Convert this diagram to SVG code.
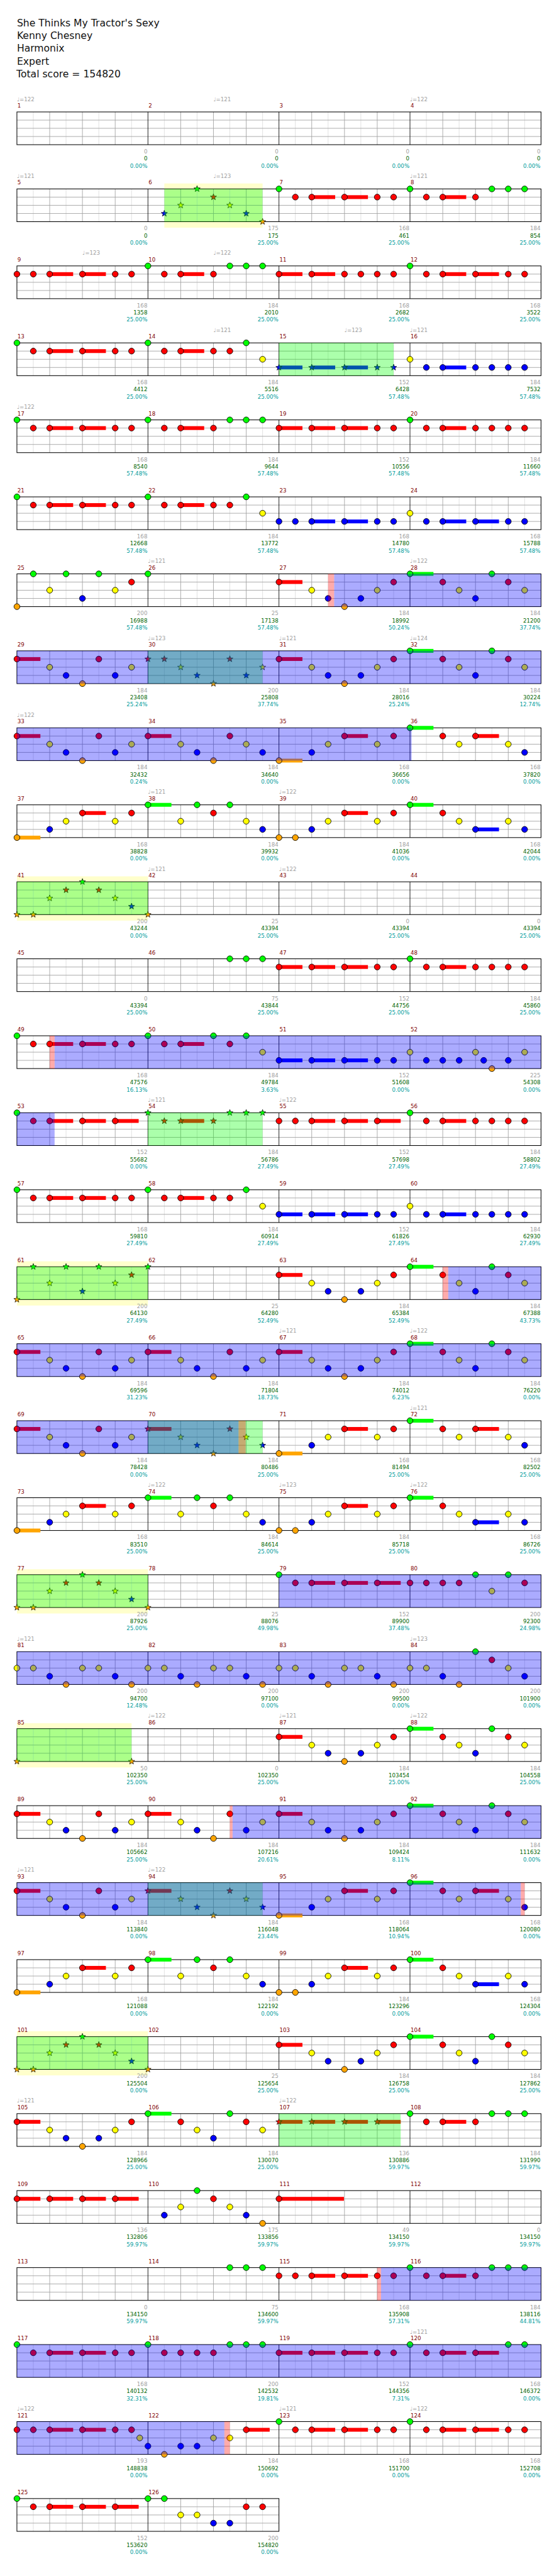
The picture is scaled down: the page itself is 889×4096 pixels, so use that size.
<svg xmlns="http://www.w3.org/2000/svg" width="889" height="4096" viewBox="0 0 889 4096">
<style>
text{font-family:"DejaVu Sans",Verdana,sans-serif;font-size:10px}
.ti{font-size:18px;fill:#111}
.mn{fill:#800000}
.tp{fill:#a0a0a0}
.a{fill:#a0a0a0;text-anchor:end}
.b{fill:#006400;text-anchor:end}
.c{fill:#009c9c;text-anchor:end}
.gr{fill:#0f0;fill-opacity:.33}
.bl{fill:#00f;fill-opacity:.33}
.pk{fill:#f00;fill-opacity:.33}
.ye{fill:#ffffcc}
</style>
<defs>
<circle id="c" r="5.4" stroke="#000"/>
<path id="st" d="M0-6L1.47-2.02 5.71-1.85 2.38.77 3.53 4.85 0 2.5-3.53 4.85-2.38.77-5.71-1.85-1.47-2.02Z" stroke="#000" stroke-width=".8"/>
<use id="G" href="#c" fill="#0f0"/>
<use id="R" href="#c" y="15" fill="#f00"/>
<use id="Y" href="#c" y="30" fill="#ff0"/>
<use id="B" href="#c" y="45" fill="#00f"/>
<use id="O" href="#c" y="60" fill="#ffa500"/>
<use id="xG" href="#st" fill="#0f0"/>
<use id="xR" href="#st" y="15" fill="#f00"/>
<use id="xY" href="#st" y="30" fill="#ff0"/>
<use id="xB" href="#st" y="45" fill="#00f"/>
<use id="xO" href="#st" y="60" fill="#ffa500"/>
<rect id="sG" y="-3.5" width="43" height="7" fill="#0f0"/>
<rect id="sR" y="11.5" width="43" height="7" fill="#f00"/>
<rect id="sB" y="41.5" width="43" height="7" fill="#00f"/>
<rect id="sO" y="56.5" width="43" height="7" fill="#ffa500"/>
<g id="G4">
<path d="M61 0v60M121 0v60M181 0v60M241 0v60M301 0v60M361 0v60M421 0v60M481 0v60M541 0v60M601 0v60M661 0v60M721 0v60M781 0v60M841 0v60M901 0v60M961 0v60" stroke="#dcdcdc"/>
<path d="M91 0v60M151 0v60M211 0v60M331 0v60M391 0v60M451 0v60M571 0v60M631 0v60M691 0v60M811 0v60M871 0v60M931 0v60M31 15H991M31 30H991M31 45H991" stroke="#a0a0a0"/>
<path d="M271 0v60M511 0v60M751 0v60" stroke="#000"/>
<rect x="31" width="960" height="60" fill="none" stroke="#000" stroke-width="1.2"/>
</g>
<g id="G2">
<path d="M61 0v60M121 0v60M181 0v60M241 0v60M301 0v60M361 0v60M421 0v60M481 0v60" stroke="#dcdcdc"/>
<path d="M91 0v60M151 0v60M211 0v60M331 0v60M391 0v60M451 0v60M31 15H511M31 30H511M31 45H511" stroke="#a0a0a0"/>
<path d="M271 0v60" stroke="#000"/>
<rect x="31" width="480" height="60" fill="none" stroke="#000" stroke-width="1.2"/>
</g>
<g id="P1"><use href="#R"/><use href="#R" x="30"/><use href="#sR" x="60"/><use href="#R" x="60"/><use href="#sR" x="120"/><use href="#R" x="120"/><use href="#R" x="180"/><use href="#R" x="210"/></g>
<g id="P2"><use href="#G"/><use href="#R" x="30"/><use href="#sR" x="60"/><use href="#R" x="60"/><use href="#sR" x="120"/><use href="#R" x="120"/><use href="#R" x="180"/><use href="#R" x="210"/></g>
<g id="P3"><use href="#G"/><use href="#R" x="30"/><use href="#sR" x="60"/><use href="#R" x="60"/><use href="#R" x="120"/><use href="#G" x="150"/><use href="#G" x="180"/><use href="#G" x="210"/></g>
<g id="P3x"><use href="#xG"/><use href="#xR" x="30"/><use href="#sR" x="60"/><use href="#xR" x="60"/><use href="#xR" x="120"/><use href="#xG" x="150"/><use href="#xG" x="180"/><use href="#xG" x="210"/></g>
<g id="P4"><use href="#sR"/><use href="#R"/><use href="#sR" x="60"/><use href="#R" x="60"/><use href="#R" x="120"/><use href="#R" x="150"/><use href="#R" x="180"/><use href="#R" x="210"/></g>
<g id="P5"><use href="#G"/><use href="#R" x="30"/><use href="#sR" x="60"/><use href="#R" x="60"/><use href="#R" x="120"/><use href="#R" x="150"/><use href="#G" x="180"/><use href="#Y" x="210"/></g>
<g id="P6"><use href="#sR"/><use href="#R"/><use href="#sR" x="60"/><use href="#R" x="60"/><use href="#sR" x="120"/><use href="#R" x="120"/><use href="#R" x="180"/><use href="#R" x="210"/></g>
<g id="P7"><use href="#G"/><use href="#R" x="30"/><use href="#sR" x="60"/><use href="#R" x="60"/><use href="#R" x="120"/><use href="#R" x="150"/><use href="#R" x="180"/><use href="#R" x="210"/></g>
<g id="P8"><use href="#sB"/><use href="#B"/><use href="#sB" x="60"/><use href="#B" x="60"/><use href="#sB" x="120"/><use href="#B" x="120"/><use href="#B" x="180"/><use href="#B" x="210"/></g>
<g id="P8x"><use href="#sB"/><use href="#xB"/><use href="#sB" x="60"/><use href="#xB" x="60"/><use href="#sB" x="120"/><use href="#xB" x="120"/><use href="#xB" x="180"/><use href="#xB" x="210"/></g>
<g id="P9"><use href="#Y"/><use href="#B" x="30"/><use href="#sB" x="60"/><use href="#B" x="60"/><use href="#B" x="120"/><use href="#B" x="150"/><use href="#B" x="180"/><use href="#B" x="210"/></g>
<g id="P10"><use href="#B"/><use href="#B" x="30"/><use href="#sB" x="60"/><use href="#B" x="60"/><use href="#sB" x="120"/><use href="#B" x="120"/><use href="#B" x="180"/><use href="#B" x="210"/></g>
<g id="P11"><use href="#Y"/><use href="#B" x="30"/><use href="#sB" x="60"/><use href="#B" x="60"/><use href="#sB" x="120"/><use href="#B" x="120"/><use href="#B" x="180"/><use href="#B" x="210"/></g>
<g id="P12"><use href="#sR"/><use href="#R"/><use href="#Y" x="60"/><use href="#B" x="90"/><use href="#O" x="120"/><use href="#R" x="150"/><use href="#B" x="180"/><use href="#Y" x="210"/></g>
<g id="P13"><use href="#sR"/><use href="#R"/><use href="#Y" x="60"/><use href="#B" x="90"/><use href="#O" x="120"/><use href="#B" x="150"/><use href="#Y" x="180"/><use href="#R" x="210"/></g>
<g id="P14"><use href="#sG"/><use href="#G"/><use href="#R" x="60"/><use href="#Y" x="90"/><use href="#B" x="120"/><use href="#G" x="150"/><use href="#R" x="180"/><use href="#Y" x="210"/></g>
<g id="P15"><use href="#sR"/><use href="#R"/><use href="#Y" x="60"/><use href="#B" x="90"/><use href="#O" x="120"/><use href="#R" x="150"/><use href="#Y" x="180"/><use href="#B" x="210"/></g>
<g id="P15x"><use href="#sR"/><use href="#xR"/><use href="#xY" x="60"/><use href="#xB" x="90"/><use href="#xO" x="120"/><use href="#xR" x="150"/><use href="#xY" x="180"/><use href="#xB" x="210"/></g>
<g id="P16"><use href="#sO"/><use href="#O"/><use href="#B" x="60"/><use href="#Y" x="90"/><use href="#sR" x="120"/><use href="#R" x="120"/><use href="#Y" x="180"/><use href="#R" x="210"/></g>
<g id="P17"><use href="#sG"/><use href="#G"/><use href="#R" x="60"/><use href="#Y" x="90"/><use href="#sR" x="120"/><use href="#R" x="120"/><use href="#Y" x="180"/><use href="#B" x="210"/></g>
<g id="P18"><use href="#sG"/><use href="#G"/><use href="#Y" x="60"/><use href="#G" x="90"/><use href="#R" x="120"/><use href="#G" x="150"/><use href="#Y" x="180"/><use href="#B" x="210"/></g>
<g id="P19"><use href="#O"/><use href="#O" x="30"/><use href="#B" x="60"/><use href="#Y" x="90"/><use href="#sR" x="120"/><use href="#R" x="120"/><use href="#Y" x="180"/><use href="#R" x="210"/></g>
<g id="P20"><use href="#sG"/><use href="#G"/><use href="#R" x="60"/><use href="#Y" x="90"/><use href="#sB" x="120"/><use href="#B" x="120"/><use href="#Y" x="180"/><use href="#B" x="210"/></g>
<g id="P21x"><use href="#xO"/><use href="#xO" x="30"/><use href="#xY" x="60"/><use href="#xR" x="90"/><use href="#xG" x="120"/><use href="#xR" x="150"/><use href="#xY" x="180"/><use href="#xB" x="210"/><use href="#xO" x="240"/></g>
<g id="P22"><use href="#G" x="150"/><use href="#G" x="180"/><use href="#G" x="210"/></g>
<g id="P23"><use href="#G"/><use href="#R" x="30"/><use href="#sR" x="60"/><use href="#R" x="60"/><use href="#sR" x="120"/><use href="#R" x="120"/><use href="#sR" x="180"/><use href="#R" x="180"/></g>
<g id="P24"><use href="#Y"/><use href="#Y" x="30"/><use href="#B" x="60"/><use href="#O" x="90"/><use href="#Y" x="120"/><use href="#Y" x="150"/><use href="#B" x="180"/><use href="#O" x="210"/></g>
<g id="P25"><use href="#sR"/><use href="#R"/><use href="#sR" x="60"/><use href="#R" x="60"/><use href="#sR" x="120"/><use href="#R" x="120"/><use href="#sR" x="180"/><use href="#R" x="180"/></g>
<g id="P25x"><use href="#sR"/><use href="#xR"/><use href="#sR" x="60"/><use href="#xR" x="60"/><use href="#sR" x="120"/><use href="#xR" x="120"/><use href="#sR" x="180"/><use href="#xR" x="180"/></g>
<g id="P26"><use href="#O"/><use href="#G" x="30"/><use href="#Y" x="60"/><use href="#G" x="90"/><use href="#B" x="120"/><use href="#G" x="150"/><use href="#Y" x="180"/><use href="#R" x="210"/><use href="#G" x="240"/></g>
<g id="P26x"><use href="#xO"/><use href="#xG" x="30"/><use href="#xY" x="60"/><use href="#xG" x="90"/><use href="#xB" x="120"/><use href="#xG" x="150"/><use href="#xY" x="180"/><use href="#xR" x="210"/><use href="#xG" x="240"/></g>
</defs>
<rect width="889" height="4096" fill="#fff"/>
<g transform="scale(.8682)">
<g id="header">
<text class="ti" x="31" y="48.3">She Thinks My Tractor's Sexy</text>
<text class="ti" x="31" y="71.6">Kenny Chesney</text>
<text class="ti" x="31" y="94.9">Harmonix</text>
<text class="ti" x="31" y="118.2">Expert</text>
<text class="ti" x="30" y="141.5">Total score = 154820</text>
</g>

<g id="row1" transform="translate(0,205)"><use href="#G4"/>
<text class="tp" x="31" y="-20">♩=122</text><text class="tp" x="391" y="-20">♩=121</text><text class="tp" x="751" y="-20">♩=122</text>
<text class="mn" y="-8"><tspan x="32">1</tspan><tspan x="272">2</tspan><tspan x="512">3</tspan><tspan x="752">4</tspan></text>
<text class="a" y="76"><tspan x="270">0</tspan><tspan x="510">0</tspan><tspan x="750">0</tspan><tspan x="990">0</tspan></text>
<text class="b" y="89"><tspan x="270">0</tspan><tspan x="510">0</tspan><tspan x="750">0</tspan><tspan x="990">0</tspan></text>
<text class="c" y="102"><tspan x="270">0.00%</tspan><tspan x="510">0.00%</tspan><tspan x="750">0.00%</tspan><tspan x="990">0.00%</tspan></text>
</g>

<g id="row2" transform="translate(0,346)">
<rect class="ye" x="301" y="-10" width="180" height="81"/>
<use href="#G4"/>
<use href="#xB" x="301"/><use href="#xY" x="331"/><use href="#xG" x="361"/><use href="#xR" x="391"/><use href="#xY" x="421"/><use href="#xB" x="451"/><use href="#xO" x="481"/>
<use href="#P2" x="511"/><use href="#P3" x="751"/>
<rect class="gr" x="301" width="180" height="60"/>
<text class="tp" x="31" y="-20">♩=121</text><text class="tp" x="391" y="-20">♩=123</text><text class="tp" x="751" y="-20">♩=121</text>
<text class="mn" y="-8"><tspan x="32">5</tspan><tspan x="272">6</tspan><tspan x="512">7</tspan><tspan x="752">8</tspan></text>
<text class="a" y="76"><tspan x="270">0</tspan><tspan x="510">175</tspan><tspan x="750">168</tspan><tspan x="990">184</tspan></text>
<text class="b" y="89"><tspan x="270">0</tspan><tspan x="510">175</tspan><tspan x="750">461</tspan><tspan x="990">854</tspan></text>
<text class="c" y="102"><tspan x="270">0.00%</tspan><tspan x="510">25.00%</tspan><tspan x="750">25.00%</tspan><tspan x="990">25.00%</tspan></text>
</g>

<g id="row3" transform="translate(0,487)"><use href="#G4"/>
<use href="#P1" x="31"/><use href="#P3" x="271"/><use href="#P4" x="511"/><use href="#P2" x="751"/>
<text class="tp" x="151" y="-20">♩=123</text><text class="tp" x="391" y="-20">♩=122</text>
<text class="mn" y="-8"><tspan x="32">9</tspan><tspan x="272">10</tspan><tspan x="512">11</tspan><tspan x="752">12</tspan></text>
<text class="a" y="76"><tspan x="270">168</tspan><tspan x="510">184</tspan><tspan x="750">168</tspan><tspan x="990">168</tspan></text>
<text class="b" y="89"><tspan x="270">1358</tspan><tspan x="510">2010</tspan><tspan x="750">2682</tspan><tspan x="990">3522</tspan></text>
<text class="c" y="102"><tspan x="270">25.00%</tspan><tspan x="510">25.00%</tspan><tspan x="750">25.00%</tspan><tspan x="990">25.00%</tspan></text>
</g>

<g id="row4" transform="translate(0,628)"><use href="#G4"/>
<use href="#P2" x="31"/><use href="#P5" x="271"/><use href="#P8x" x="511"/><use href="#P9" x="751"/>
<rect class="gr" x="511" width="210" height="60"/>
<text class="tp" x="391" y="-20">♩=121</text><text class="tp" x="631" y="-20">♩=123</text><text class="tp" x="751" y="-20">♩=121</text>
<text class="mn" y="-8"><tspan x="32">13</tspan><tspan x="272">14</tspan><tspan x="512">15</tspan><tspan x="752">16</tspan></text>
<text class="a" y="76"><tspan x="270">168</tspan><tspan x="510">184</tspan><tspan x="750">152</tspan><tspan x="990">184</tspan></text>
<text class="b" y="89"><tspan x="270">4412</tspan><tspan x="510">5516</tspan><tspan x="750">6428</tspan><tspan x="990">7532</tspan></text>
<text class="c" y="102"><tspan x="270">25.00%</tspan><tspan x="510">25.00%</tspan><tspan x="750">57.48%</tspan><tspan x="990">57.48%</tspan></text>
</g>

<g id="row5" transform="translate(0,769)"><use href="#G4"/>
<use href="#P2" x="31"/><use href="#P3" x="271"/><use href="#P6" x="511"/><use href="#P7" x="751"/>
<text class="tp" x="31" y="-20">♩=122</text>
<text class="mn" y="-8"><tspan x="32">17</tspan><tspan x="272">18</tspan><tspan x="512">19</tspan><tspan x="752">20</tspan></text>
<text class="a" y="76"><tspan x="270">168</tspan><tspan x="510">184</tspan><tspan x="750">152</tspan><tspan x="990">184</tspan></text>
<text class="b" y="89"><tspan x="270">8540</tspan><tspan x="510">9644</tspan><tspan x="750">10556</tspan><tspan x="990">11660</tspan></text>
<text class="c" y="102"><tspan x="270">57.48%</tspan><tspan x="510">57.48%</tspan><tspan x="750">57.48%</tspan><tspan x="990">57.48%</tspan></text>
</g>

<g id="row6" transform="translate(0,910)"><use href="#G4"/>
<use href="#P2" x="31"/><use href="#P5" x="271"/><use href="#P10" x="511"/><use href="#P11" x="751"/>
<text class="mn" y="-8"><tspan x="32">21</tspan><tspan x="272">22</tspan><tspan x="512">23</tspan><tspan x="752">24</tspan></text>
<text class="a" y="76"><tspan x="270">168</tspan><tspan x="510">184</tspan><tspan x="750">168</tspan><tspan x="990">168</tspan></text>
<text class="b" y="89"><tspan x="270">12668</tspan><tspan x="510">13772</tspan><tspan x="750">14780</tspan><tspan x="990">15788</tspan></text>
<text class="c" y="102"><tspan x="270">57.48%</tspan><tspan x="510">57.48%</tspan><tspan x="750">57.48%</tspan><tspan x="990">57.48%</tspan></text>
</g>

<g id="row7" transform="translate(0,1051)"><use href="#G4"/>
<use href="#P26" x="31"/><use href="#P13" x="511"/><use href="#P14" x="751"/>
<rect class="bl" x="612" width="379" height="60"/><rect class="pk" x="601" width="11" height="60"/>
<text class="tp" x="271" y="-20">♩=121</text><text class="tp" x="751" y="-20">♩=122</text>
<text class="mn" y="-8"><tspan x="32">25</tspan><tspan x="272">26</tspan><tspan x="512">27</tspan><tspan x="752">28</tspan></text>
<text class="a" y="76"><tspan x="270">200</tspan><tspan x="510">25</tspan><tspan x="750">184</tspan><tspan x="990">184</tspan></text>
<text class="b" y="89"><tspan x="270">16988</tspan><tspan x="510">17138</tspan><tspan x="750">18992</tspan><tspan x="990">21200</tspan></text>
<text class="c" y="102"><tspan x="270">57.48%</tspan><tspan x="510">57.48%</tspan><tspan x="750">50.24%</tspan><tspan x="990">37.74%</tspan></text>
</g>

<g id="row8" transform="translate(0,1192)"><use href="#G4"/>
<use href="#P12" x="31"/>
<use href="#xR" x="271"/><use href="#xR" x="301"/><use href="#xY" x="331"/><use href="#xB" x="361"/><use href="#xO" x="391"/><use href="#xR" x="421"/><use href="#xB" x="451"/><use href="#xY" x="481"/>
<use href="#P13" x="511"/><use href="#P14" x="751"/>
<rect class="gr" x="271" width="210" height="60"/><rect class="bl" x="31" width="960" height="60"/>
<text class="tp" x="271" y="-20">♩=123</text><text class="tp" x="511" y="-20">♩=121</text><text class="tp" x="751" y="-20">♩=124</text>
<text class="mn" y="-8"><tspan x="32">29</tspan><tspan x="272">30</tspan><tspan x="512">31</tspan><tspan x="752">32</tspan></text>
<text class="a" y="76"><tspan x="270">184</tspan><tspan x="510">200</tspan><tspan x="750">184</tspan><tspan x="990">184</tspan></text>
<text class="b" y="89"><tspan x="270">23408</tspan><tspan x="510">25808</tspan><tspan x="750">28016</tspan><tspan x="990">30224</tspan></text>
<text class="c" y="102"><tspan x="270">25.24%</tspan><tspan x="510">37.74%</tspan><tspan x="750">25.24%</tspan><tspan x="990">12.74%</tspan></text>
</g>

<g id="row9" transform="translate(0,1333)"><use href="#G4"/>
<use href="#P12" x="31"/><use href="#P15" x="271"/><use href="#P16" x="511"/><use href="#P17" x="751"/>
<rect class="bl" x="31" width="723" height="60"/>
<text class="tp" x="31" y="-20">♩=122</text>
<text class="mn" y="-8"><tspan x="32">33</tspan><tspan x="272">34</tspan><tspan x="512">35</tspan><tspan x="752">36</tspan></text>
<text class="a" y="76"><tspan x="270">184</tspan><tspan x="510">184</tspan><tspan x="750">168</tspan><tspan x="990">168</tspan></text>
<text class="b" y="89"><tspan x="270">32432</tspan><tspan x="510">34640</tspan><tspan x="750">36656</tspan><tspan x="990">37820</tspan></text>
<text class="c" y="102"><tspan x="270">0.24%</tspan><tspan x="510">0.00%</tspan><tspan x="750">0.00%</tspan><tspan x="990">0.00%</tspan></text>
</g>

<g id="row10" transform="translate(0,1474)"><use href="#G4"/>
<use href="#P16" x="31"/><use href="#P18" x="271"/><use href="#P19" x="511"/><use href="#P20" x="751"/>
<text class="tp" x="271" y="-20">♩=121</text><text class="tp" x="511" y="-20">♩=122</text>
<text class="mn" y="-8"><tspan x="32">37</tspan><tspan x="272">38</tspan><tspan x="512">39</tspan><tspan x="752">40</tspan></text>
<text class="a" y="76"><tspan x="270">168</tspan><tspan x="510">184</tspan><tspan x="750">184</tspan><tspan x="990">168</tspan></text>
<text class="b" y="89"><tspan x="270">38828</tspan><tspan x="510">39932</tspan><tspan x="750">41036</tspan><tspan x="990">42044</tspan></text>
<text class="c" y="102"><tspan x="270">0.00%</tspan><tspan x="510">0.00%</tspan><tspan x="750">0.00%</tspan><tspan x="990">0.00%</tspan></text>
</g>

<g id="row11" transform="translate(0,1615)">
<rect class="ye" x="31" y="-10" width="240" height="81"/>
<use href="#G4"/>
<use href="#P21x" x="31"/>
<rect class="gr" x="31" width="240" height="60"/>
<text class="tp" x="271" y="-20">♩=121</text><text class="tp" x="511" y="-20">♩=122</text>
<text class="mn" y="-8"><tspan x="32">41</tspan><tspan x="272">42</tspan><tspan x="512">43</tspan><tspan x="752">44</tspan></text>
<text class="a" y="76"><tspan x="270">200</tspan><tspan x="510">25</tspan><tspan x="750">0</tspan><tspan x="990">0</tspan></text>
<text class="b" y="89"><tspan x="270">43244</tspan><tspan x="510">43394</tspan><tspan x="750">43394</tspan><tspan x="990">43394</tspan></text>
<text class="c" y="102"><tspan x="270">0.00%</tspan><tspan x="510">25.00%</tspan><tspan x="750">25.00%</tspan><tspan x="990">25.00%</tspan></text>
</g>

<g id="row12" transform="translate(0,1756)"><use href="#G4"/>
<use href="#P22" x="271"/><use href="#P6" x="511"/><use href="#P7" x="751"/>
<text class="mn" y="-8"><tspan x="32">45</tspan><tspan x="272">46</tspan><tspan x="512">47</tspan><tspan x="752">48</tspan></text>
<text class="a" y="76"><tspan x="270">0</tspan><tspan x="510">75</tspan><tspan x="750">152</tspan><tspan x="990">184</tspan></text>
<text class="b" y="89"><tspan x="270">43394</tspan><tspan x="510">43844</tspan><tspan x="750">44756</tspan><tspan x="990">45860</tspan></text>
<text class="c" y="102"><tspan x="270">25.00%</tspan><tspan x="510">25.00%</tspan><tspan x="750">25.00%</tspan><tspan x="990">25.00%</tspan></text>
</g>

<g id="row13" transform="translate(0,1897)"><use href="#G4"/>
<use href="#P2" x="31"/>
<use href="#G" x="271"/><use href="#R" x="301"/><use href="#sR" x="331"/><use href="#R" x="331"/><use href="#G" x="391"/><use href="#R" x="421"/><use href="#G" x="451"/><use href="#Y" x="481"/>
<use href="#P8" x="511"/>
<use href="#Y" x="751"/><use href="#B" x="781"/><use href="#B" x="811"/><use href="#B" x="841"/><use href="#Y" x="871"/><use href="#B" x="886"/><use href="#O" x="901"/><use href="#B" x="931"/><use href="#Y" x="961"/>
<rect class="bl" x="100" width="891" height="60"/><rect class="pk" x="91" width="9" height="60"/>
<text class="mn" y="-8"><tspan x="32">49</tspan><tspan x="272">50</tspan><tspan x="512">51</tspan><tspan x="752">52</tspan></text>
<text class="a" y="76"><tspan x="270">168</tspan><tspan x="510">184</tspan><tspan x="750">152</tspan><tspan x="990">225</tspan></text>
<text class="b" y="89"><tspan x="270">47576</tspan><tspan x="510">49784</tspan><tspan x="750">51608</tspan><tspan x="990">54308</tspan></text>
<text class="c" y="102"><tspan x="270">16.13%</tspan><tspan x="510">3.63%</tspan><tspan x="750">0.00%</tspan><tspan x="990">0.00%</tspan></text>
</g>

<g id="row14" transform="translate(0,2038)"><use href="#G4"/>
<use href="#P23" x="31"/><use href="#P3x" x="271"/>
<use href="#R" x="511"/><use href="#R" x="541"/><use href="#sR" x="571"/><use href="#R" x="571"/><use href="#sR" x="631"/><use href="#R" x="631"/><use href="#sR" x="691"/><use href="#R" x="691"/>
<use href="#P7" x="751"/>
<rect class="gr" x="271" width="210" height="60"/><rect class="bl" x="31" width="69" height="60"/>
<text class="tp" x="271" y="-20">♩=121</text><text class="tp" x="511" y="-20">♩=122</text>
<text class="mn" y="-8"><tspan x="32">53</tspan><tspan x="272">54</tspan><tspan x="512">55</tspan><tspan x="752">56</tspan></text>
<text class="a" y="76"><tspan x="270">152</tspan><tspan x="510">184</tspan><tspan x="750">152</tspan><tspan x="990">184</tspan></text>
<text class="b" y="89"><tspan x="270">55682</tspan><tspan x="510">56786</tspan><tspan x="750">57698</tspan><tspan x="990">58802</tspan></text>
<text class="c" y="102"><tspan x="270">0.00%</tspan><tspan x="510">27.49%</tspan><tspan x="750">27.49%</tspan><tspan x="990">27.49%</tspan></text>
</g>

<g id="row15" transform="translate(0,2179)"><use href="#G4"/>
<use href="#P2" x="31"/><use href="#P5" x="271"/><use href="#P8" x="511"/><use href="#P9" x="751"/>
<text class="mn" y="-8"><tspan x="32">57</tspan><tspan x="272">58</tspan><tspan x="512">59</tspan><tspan x="752">60</tspan></text>
<text class="a" y="76"><tspan x="270">168</tspan><tspan x="510">184</tspan><tspan x="750">152</tspan><tspan x="990">184</tspan></text>
<text class="b" y="89"><tspan x="270">59810</tspan><tspan x="510">60914</tspan><tspan x="750">61826</tspan><tspan x="990">62930</tspan></text>
<text class="c" y="102"><tspan x="270">27.49%</tspan><tspan x="510">27.49%</tspan><tspan x="750">27.49%</tspan><tspan x="990">27.49%</tspan></text>
</g>

<g id="row16" transform="translate(0,2320)">
<rect class="ye" x="31" y="-10" width="240" height="81"/>
<use href="#G4"/>
<use href="#P26x" x="31"/><use href="#P13" x="511"/><use href="#P14" x="751"/>
<rect class="gr" x="31" width="240" height="60"/><rect class="bl" x="821" width="170" height="60"/><rect class="pk" x="811" width="10" height="60"/>
<text class="mn" y="-8"><tspan x="32">61</tspan><tspan x="272">62</tspan><tspan x="512">63</tspan><tspan x="752">64</tspan></text>
<text class="a" y="76"><tspan x="270">200</tspan><tspan x="510">25</tspan><tspan x="750">184</tspan><tspan x="990">184</tspan></text>
<text class="b" y="89"><tspan x="270">64130</tspan><tspan x="510">64280</tspan><tspan x="750">65384</tspan><tspan x="990">67388</tspan></text>
<text class="c" y="102"><tspan x="270">27.49%</tspan><tspan x="510">52.49%</tspan><tspan x="750">52.49%</tspan><tspan x="990">43.73%</tspan></text>
</g>

<g id="row17" transform="translate(0,2461)"><use href="#G4"/>
<use href="#P12" x="31"/><use href="#P12" x="271"/><use href="#P13" x="511"/><use href="#P14" x="751"/>
<rect class="bl" x="31" width="960" height="60"/>
<text class="tp" x="511" y="-20">♩=121</text><text class="tp" x="751" y="-20">♩=122</text>
<text class="mn" y="-8"><tspan x="32">65</tspan><tspan x="272">66</tspan><tspan x="512">67</tspan><tspan x="752">68</tspan></text>
<text class="a" y="76"><tspan x="270">184</tspan><tspan x="510">184</tspan><tspan x="750">184</tspan><tspan x="990">184</tspan></text>
<text class="b" y="89"><tspan x="270">69596</tspan><tspan x="510">71804</tspan><tspan x="750">74012</tspan><tspan x="990">76220</tspan></text>
<text class="c" y="102"><tspan x="270">31.23%</tspan><tspan x="510">18.73%</tspan><tspan x="750">6.23%</tspan><tspan x="990">0.00%</tspan></text>
</g>

<g id="row18" transform="translate(0,2602)"><use href="#G4"/>
<use href="#P12" x="31"/><use href="#P15x" x="271"/><use href="#P16" x="511"/><use href="#P17" x="751"/>
<rect class="gr" x="271" width="210" height="60"/><rect class="bl" x="31" width="406" height="60"/><rect class="pk" x="437" width="13" height="60"/>
<text class="tp" x="751" y="-20">♩=121</text>
<text class="mn" y="-8"><tspan x="32">69</tspan><tspan x="272">70</tspan><tspan x="512">71</tspan><tspan x="752">72</tspan></text>
<text class="a" y="76"><tspan x="270">184</tspan><tspan x="510">184</tspan><tspan x="750">168</tspan><tspan x="990">168</tspan></text>
<text class="b" y="89"><tspan x="270">78428</tspan><tspan x="510">80486</tspan><tspan x="750">81494</tspan><tspan x="990">82502</tspan></text>
<text class="c" y="102"><tspan x="270">0.00%</tspan><tspan x="510">25.00%</tspan><tspan x="750">25.00%</tspan><tspan x="990">25.00%</tspan></text>
</g>

<g id="row19" transform="translate(0,2743)"><use href="#G4"/>
<use href="#P16" x="31"/><use href="#P18" x="271"/><use href="#P19" x="511"/><use href="#P20" x="751"/>
<text class="tp" x="271" y="-20">♩=122</text><text class="tp" x="511" y="-20">♩=123</text><text class="tp" x="751" y="-20">♩=122</text>
<text class="mn" y="-8"><tspan x="32">73</tspan><tspan x="272">74</tspan><tspan x="512">75</tspan><tspan x="752">76</tspan></text>
<text class="a" y="76"><tspan x="270">168</tspan><tspan x="510">184</tspan><tspan x="750">184</tspan><tspan x="990">168</tspan></text>
<text class="b" y="89"><tspan x="270">83510</tspan><tspan x="510">84614</tspan><tspan x="750">85718</tspan><tspan x="990">86726</tspan></text>
<text class="c" y="102"><tspan x="270">25.00%</tspan><tspan x="510">25.00%</tspan><tspan x="750">25.00%</tspan><tspan x="990">25.00%</tspan></text>
</g>

<g id="row20" transform="translate(0,2884)">
<rect class="ye" x="31" y="-10" width="240" height="81"/>
<use href="#G4"/>
<use href="#P21x" x="31"/><use href="#P23" x="511"/>
<use href="#R" x="751"/><use href="#R" x="781"/><use href="#R" x="811"/><use href="#R" x="841"/><use href="#G" x="871"/><use href="#Y" x="901"/><use href="#G" x="931"/><use href="#R" x="961"/>
<rect class="gr" x="31" width="240" height="60"/><rect class="bl" x="511" width="480" height="60"/>
<text class="mn" y="-8"><tspan x="32">77</tspan><tspan x="272">78</tspan><tspan x="512">79</tspan><tspan x="752">80</tspan></text>
<text class="a" y="76"><tspan x="270">200</tspan><tspan x="510">25</tspan><tspan x="750">152</tspan><tspan x="990">200</tspan></text>
<text class="b" y="89"><tspan x="270">87926</tspan><tspan x="510">88076</tspan><tspan x="750">89900</tspan><tspan x="990">92300</tspan></text>
<text class="c" y="102"><tspan x="270">25.00%</tspan><tspan x="510">49.98%</tspan><tspan x="750">37.48%</tspan><tspan x="990">24.98%</tspan></text>
</g>

<g id="row21" transform="translate(0,3025)"><use href="#G4"/>
<use href="#P24" x="31"/><use href="#P24" x="271"/><use href="#P24" x="511"/>
<use href="#Y" x="751"/><use href="#Y" x="781"/><use href="#B" x="811"/><use href="#O" x="841"/><use href="#G" x="871"/><use href="#R" x="901"/><use href="#Y" x="931"/><use href="#B" x="961"/>
<rect class="bl" x="31" width="960" height="60"/>
<text class="tp" x="31" y="-20">♩=121</text><text class="tp" x="751" y="-20">♩=123</text>
<text class="mn" y="-8"><tspan x="32">81</tspan><tspan x="272">82</tspan><tspan x="512">83</tspan><tspan x="752">84</tspan></text>
<text class="a" y="76"><tspan x="270">200</tspan><tspan x="510">200</tspan><tspan x="750">200</tspan><tspan x="990">200</tspan></text>
<text class="b" y="89"><tspan x="270">94700</tspan><tspan x="510">97100</tspan><tspan x="750">99500</tspan><tspan x="990">101900</tspan></text>
<text class="c" y="102"><tspan x="270">12.48%</tspan><tspan x="510">0.00%</tspan><tspan x="750">0.00%</tspan><tspan x="990">0.00%</tspan></text>
</g>

<g id="row22" transform="translate(0,3166)">
<rect class="ye" x="31" y="-10" width="210" height="81"/>
<use href="#G4"/>
<use href="#xO" x="31"/><use href="#xO" x="241"/>
<use href="#P13" x="511"/><use href="#P14" x="751"/>
<rect class="gr" x="31" width="210" height="60"/>
<text class="tp" x="271" y="-20">♩=122</text><text class="tp" x="511" y="-20">♩=121</text><text class="tp" x="751" y="-20">♩=122</text>
<text class="mn" y="-8"><tspan x="32">85</tspan><tspan x="272">86</tspan><tspan x="512">87</tspan><tspan x="752">88</tspan></text>
<text class="a" y="76"><tspan x="270">50</tspan><tspan x="510">0</tspan><tspan x="750">184</tspan><tspan x="990">184</tspan></text>
<text class="b" y="89"><tspan x="270">102350</tspan><tspan x="510">102350</tspan><tspan x="750">103454</tspan><tspan x="990">104558</tspan></text>
<text class="c" y="102"><tspan x="270">25.00%</tspan><tspan x="510">25.00%</tspan><tspan x="750">25.00%</tspan><tspan x="990">25.00%</tspan></text>
</g>

<g id="row23" transform="translate(0,3307)"><use href="#G4"/>
<use href="#P12" x="31"/><use href="#P12" x="271"/><use href="#P13" x="511"/><use href="#P14" x="751"/>
<rect class="bl" x="426" width="565" height="60"/><rect class="pk" x="421" width="5" height="60"/>
<text class="mn" y="-8"><tspan x="32">89</tspan><tspan x="272">90</tspan><tspan x="512">91</tspan><tspan x="752">92</tspan></text>
<text class="a" y="76"><tspan x="270">184</tspan><tspan x="510">184</tspan><tspan x="750">184</tspan><tspan x="990">184</tspan></text>
<text class="b" y="89"><tspan x="270">105662</tspan><tspan x="510">107216</tspan><tspan x="750">109424</tspan><tspan x="990">111632</tspan></text>
<text class="c" y="102"><tspan x="270">25.00%</tspan><tspan x="510">20.61%</tspan><tspan x="750">8.11%</tspan><tspan x="990">0.00%</tspan></text>
</g>

<g id="row24" transform="translate(0,3448)"><use href="#G4"/>
<use href="#P12" x="31"/><use href="#P15x" x="271"/><use href="#P16" x="511"/><use href="#P17" x="751"/>
<rect class="gr" x="271" width="210" height="60"/><rect class="bl" x="31" width="923" height="60"/><rect class="pk" x="954" width="7" height="60"/>
<text class="tp" x="31" y="-20">♩=121</text><text class="tp" x="271" y="-20">♩=122</text>
<text class="mn" y="-8"><tspan x="32">93</tspan><tspan x="272">94</tspan><tspan x="512">95</tspan><tspan x="752">96</tspan></text>
<text class="a" y="76"><tspan x="270">184</tspan><tspan x="510">184</tspan><tspan x="750">168</tspan><tspan x="990">168</tspan></text>
<text class="b" y="89"><tspan x="270">113840</tspan><tspan x="510">116048</tspan><tspan x="750">118064</tspan><tspan x="990">120080</tspan></text>
<text class="c" y="102"><tspan x="270">0.00%</tspan><tspan x="510">23.44%</tspan><tspan x="750">10.94%</tspan><tspan x="990">0.00%</tspan></text>
</g>

<g id="row25" transform="translate(0,3589)"><use href="#G4"/>
<use href="#P16" x="31"/><use href="#P18" x="271"/><use href="#P19" x="511"/><use href="#P20" x="751"/>
<text class="mn" y="-8"><tspan x="32">97</tspan><tspan x="272">98</tspan><tspan x="512">99</tspan><tspan x="752">100</tspan></text>
<text class="a" y="76"><tspan x="270">168</tspan><tspan x="510">184</tspan><tspan x="750">184</tspan><tspan x="990">168</tspan></text>
<text class="b" y="89"><tspan x="270">121088</tspan><tspan x="510">122192</tspan><tspan x="750">123296</tspan><tspan x="990">124304</tspan></text>
<text class="c" y="102"><tspan x="270">0.00%</tspan><tspan x="510">0.00%</tspan><tspan x="750">0.00%</tspan><tspan x="990">0.00%</tspan></text>
</g>

<g id="row26" transform="translate(0,3730)">
<rect class="ye" x="31" y="-10" width="240" height="81"/>
<use href="#G4"/>
<use href="#P21x" x="31"/><use href="#P13" x="511"/><use href="#P14" x="751"/>
<rect class="gr" x="31" width="240" height="60"/>
<text class="mn" y="-8"><tspan x="32">101</tspan><tspan x="272">102</tspan><tspan x="512">103</tspan><tspan x="752">104</tspan></text>
<text class="a" y="76"><tspan x="270">200</tspan><tspan x="510">25</tspan><tspan x="750">184</tspan><tspan x="990">184</tspan></text>
<text class="b" y="89"><tspan x="270">125504</tspan><tspan x="510">125654</tspan><tspan x="750">126758</tspan><tspan x="990">127862</tspan></text>
<text class="c" y="102"><tspan x="270">0.00%</tspan><tspan x="510">25.00%</tspan><tspan x="750">25.00%</tspan><tspan x="990">25.00%</tspan></text>
</g>

<g id="row27" transform="translate(0,3871)"><use href="#G4"/>
<use href="#P13" x="31"/><use href="#P14" x="271"/><use href="#P25x" x="511"/><use href="#P3" x="751"/>
<rect class="gr" x="511" width="223" height="60"/>
<text class="tp" x="31" y="-20">♩=121</text><text class="tp" x="511" y="-20">♩=122</text>
<text class="mn" y="-8"><tspan x="32">105</tspan><tspan x="272">106</tspan><tspan x="512">107</tspan><tspan x="752">108</tspan></text>
<text class="a" y="76"><tspan x="270">184</tspan><tspan x="510">184</tspan><tspan x="750">136</tspan><tspan x="990">184</tspan></text>
<text class="b" y="89"><tspan x="270">128966</tspan><tspan x="510">130070</tspan><tspan x="750">130886</tspan><tspan x="990">131990</tspan></text>
<text class="c" y="102"><tspan x="270">25.00%</tspan><tspan x="510">25.00%</tspan><tspan x="750">59.97%</tspan><tspan x="990">59.97%</tspan></text>
</g>

<g id="row28" transform="translate(0,4012)"><use href="#G4"/>
<use href="#P25" x="31"/>
<use href="#B" x="301"/><use href="#Y" x="331"/><use href="#G" x="361"/><use href="#R" x="391"/><use href="#Y" x="421"/><use href="#B" x="451"/><use href="#O" x="481"/>
<rect x="511" y="11.5" width="119" height="7" fill="#f00"/><use href="#R" x="511"/>
<text class="mn" y="-8"><tspan x="32">109</tspan><tspan x="272">110</tspan><tspan x="512">111</tspan><tspan x="752">112</tspan></text>
<text class="a" y="76"><tspan x="270">136</tspan><tspan x="510">175</tspan><tspan x="750">49</tspan><tspan x="990">0</tspan></text>
<text class="b" y="89"><tspan x="270">132806</tspan><tspan x="510">133856</tspan><tspan x="750">134150</tspan><tspan x="990">134150</tspan></text>
<text class="c" y="102"><tspan x="270">59.97%</tspan><tspan x="510">59.97%</tspan><tspan x="750">59.97%</tspan><tspan x="990">59.97%</tspan></text>
</g>

<g id="row29" transform="translate(0,4153)"><use href="#G4"/>
<use href="#P22" x="271"/><use href="#P1" x="511"/><use href="#P3" x="751"/>
<rect class="bl" x="698" width="293" height="60"/><rect class="pk" x="691" width="7" height="60"/>
<text class="mn" y="-8"><tspan x="32">113</tspan><tspan x="272">114</tspan><tspan x="512">115</tspan><tspan x="752">116</tspan></text>
<text class="a" y="76"><tspan x="270">0</tspan><tspan x="510">75</tspan><tspan x="750">168</tspan><tspan x="990">184</tspan></text>
<text class="b" y="89"><tspan x="270">134150</tspan><tspan x="510">134600</tspan><tspan x="750">135908</tspan><tspan x="990">138116</tspan></text>
<text class="c" y="102"><tspan x="270">59.97%</tspan><tspan x="510">59.97%</tspan><tspan x="750">57.31%</tspan><tspan x="990">44.81%</tspan></text>
</g>

<g id="row30" transform="translate(0,4294)"><use href="#G4"/>
<use href="#P2" x="31"/>
<use href="#G" x="271"/><use href="#R" x="301"/><use href="#R" x="331"/><use href="#R" x="361"/><use href="#R" x="391"/><use href="#G" x="421"/><use href="#G" x="451"/><use href="#G" x="481"/>
<use href="#P6" x="511"/>
<use href="#G" x="751"/><use href="#R" x="781"/><use href="#sR" x="811"/><use href="#R" x="811"/><use href="#sR" x="871"/><use href="#R" x="871"/><use href="#G" x="931"/><use href="#G" x="961"/>
<rect class="bl" x="31" width="960" height="60"/>
<text class="tp" x="751" y="-20">♩=121</text>
<text class="mn" y="-8"><tspan x="32">117</tspan><tspan x="272">118</tspan><tspan x="512">119</tspan><tspan x="752">120</tspan></text>
<text class="a" y="76"><tspan x="270">168</tspan><tspan x="510">200</tspan><tspan x="750">152</tspan><tspan x="990">168</tspan></text>
<text class="b" y="89"><tspan x="270">140132</tspan><tspan x="510">142532</tspan><tspan x="750">144356</tspan><tspan x="990">146372</tspan></text>
<text class="c" y="102"><tspan x="270">32.31%</tspan><tspan x="510">19.81%</tspan><tspan x="750">7.31%</tspan><tspan x="990">0.00%</tspan></text>
</g>

<g id="row31" transform="translate(0,4435)"><use href="#G4"/>
<use href="#P1" x="31"/>
<use href="#Y" x="256"/><use href="#B" x="271"/><use href="#O" x="301"/><use href="#B" x="331"/><use href="#B" x="361"/><use href="#Y" x="391"/><use href="#Y" x="421"/><use href="#sR" x="451"/><use href="#R" x="451"/>
<use href="#P2" x="511"/><use href="#P2" x="751"/>
<rect class="bl" x="31" width="380" height="60"/><rect class="pk" x="411" width="10" height="60"/>
<text class="tp" x="31" y="-20">♩=122</text><text class="tp" x="511" y="-20">♩=121</text><text class="tp" x="751" y="-20">♩=122</text>
<text class="mn" y="-8"><tspan x="32">121</tspan><tspan x="272">122</tspan><tspan x="512">123</tspan><tspan x="752">124</tspan></text>
<text class="a" y="76"><tspan x="270">193</tspan><tspan x="510">184</tspan><tspan x="750">168</tspan><tspan x="990">168</tspan></text>
<text class="b" y="89"><tspan x="270">148838</tspan><tspan x="510">150692</tspan><tspan x="750">151700</tspan><tspan x="990">152708</tspan></text>
<text class="c" y="102"><tspan x="270">0.00%</tspan><tspan x="510">0.00%</tspan><tspan x="750">0.00%</tspan><tspan x="990">0.00%</tspan></text>
</g>

<g id="row32" transform="translate(0,4576)"><use href="#G2"/>
<use href="#P23" x="31"/>
<use href="#G" x="271"/><use href="#G" x="301"/><use href="#Y" x="331"/><use href="#Y" x="361"/><use href="#B" x="391"/><use href="#B" x="421"/><use href="#R" x="451"/><use href="#R" x="481"/>
<text class="mn" y="-8"><tspan x="32">125</tspan><tspan x="272">126</tspan></text>
<text class="a" y="76"><tspan x="270">152</tspan><tspan x="510">200</tspan></text>
<text class="b" y="89"><tspan x="270">153620</tspan><tspan x="510">154820</tspan></text>
<text class="c" y="102"><tspan x="270">0.00%</tspan><tspan x="510">0.00%</tspan></text>
</g>
</g>
</svg>
